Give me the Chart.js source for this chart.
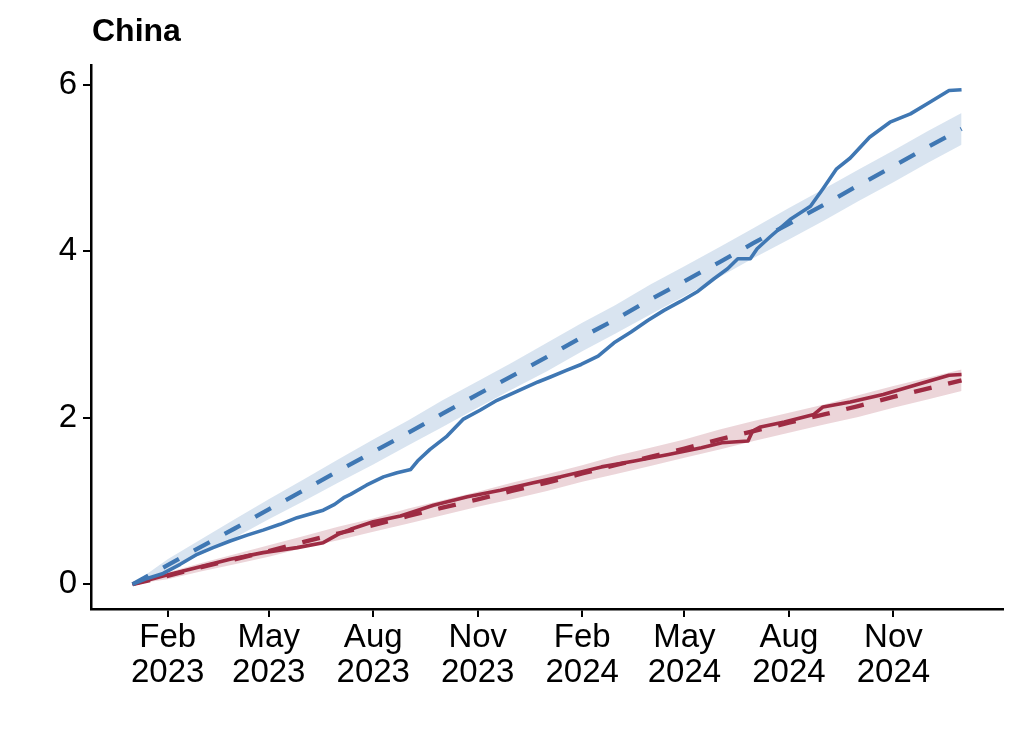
<!DOCTYPE html>
<html>
<head>
<meta charset="utf-8">
<script src="https://cdn.jsdelivr.net/npm/chart.js@4.4.1/dist/chart.umd.min.js"></script>
<style>
html,body{margin:0;padding:0;background:#fff;}
canvas{display:block;}
</style>
</head>
<body>
<canvas id="c" width="1020" height="750"></canvas>
<script>
// ---- data ----
const chartTitle = "China";
const tickDates = ["2023-02-01","2023-05-01","2023-08-01","2023-11-01","2024-02-01","2024-05-01","2024-08-01","2024-11-01"];
const tickLabels = ["Feb 2023","May 2023","Aug 2023","Nov 2023","Feb 2024","May 2024","Aug 2024","Nov 2024"];
const yTicks = [0, 2, 4, 6];

const blueDates = ["2023-01-01","2023-01-14","2023-01-28","2023-02-12","2023-02-27","2023-03-13","2023-03-28","2023-04-12","2023-04-26","2023-05-11","2023-05-26","2023-06-08","2023-06-18","2023-06-28","2023-07-06","2023-07-12","2023-07-26","2023-08-10","2023-08-22","2023-09-03","2023-09-09","2023-09-20","2023-10-05","2023-10-19","2023-11-03","2023-11-18","2023-12-06","2023-12-24","2024-01-04","2024-01-18","2024-01-31","2024-02-15","2024-02-29","2024-03-15","2024-03-30","2024-04-13","2024-04-28","2024-05-13","2024-05-27","2024-06-08","2024-06-17","2024-06-28","2024-07-04","2024-07-16","2024-08-02","2024-08-20","2024-08-31","2024-09-12","2024-09-24","2024-10-11","2024-10-29","2024-11-16","2024-12-03","2024-12-20","2024-12-31"];
const blueObserved = [0,0.07,0.13,0.24,0.36,0.44,0.52,0.59,0.65,0.72,0.80,0.85,0.89,0.96,1.04,1.08,1.19,1.29,1.34,1.38,1.48,1.62,1.78,1.98,2.09,2.21,2.32,2.43,2.49,2.57,2.64,2.74,2.90,3.03,3.17,3.29,3.40,3.52,3.67,3.79,3.91,3.91,4.03,4.18,4.38,4.54,4.75,4.99,5.12,5.37,5.55,5.65,5.79,5.93,5.94];

const redDates = ["2023-01-01","2023-01-28","2023-02-27","2023-03-28","2023-04-26","2023-05-26","2023-06-18","2023-07-01","2023-07-12","2023-08-01","2023-08-25","2023-09-23","2023-10-23","2023-11-21","2023-12-20","2024-01-13","2024-01-31","2024-02-18","2024-03-18","2024-04-17","2024-05-16","2024-06-03","2024-06-26","2024-06-30","2024-07-07","2024-07-28","2024-08-23","2024-08-31","2024-09-24","2024-10-23","2024-11-22","2024-12-20","2024-12-31"];
const redObserved = [0,0.10,0.20,0.30,0.38,0.44,0.50,0.60,0.66,0.75,0.82,0.95,1.05,1.13,1.22,1.29,1.35,1.41,1.48,1.56,1.64,1.70,1.72,1.84,1.89,1.95,2.04,2.13,2.19,2.28,2.40,2.51,2.52];

const bandDates = ["2023-01-01","2023-02-01","2023-03-01","2023-04-01","2023-05-01","2023-06-01","2023-07-01","2023-08-01","2023-09-01","2023-10-01","2023-11-01","2023-12-01","2024-01-01","2024-02-01","2024-03-01","2024-04-01","2024-05-01","2024-06-01","2024-07-01","2024-08-01","2024-09-01","2024-10-01","2024-11-01","2024-12-01","2024-12-31"];
const blueExpected = [0,0.23,0.44,0.67,0.90,1.13,1.36,1.59,1.82,2.05,2.28,2.50,2.73,2.97,3.18,3.42,3.64,3.87,4.10,4.33,4.56,4.79,5.02,5.25,5.47];
const blueLow  = [0,0.16,0.35,0.56,0.78,1.00,1.22,1.44,1.67,1.89,2.12,2.34,2.56,2.80,3.01,3.24,3.46,3.69,3.92,4.14,4.37,4.60,4.83,5.06,5.28];
const blueHigh = [0,0.30,0.53,0.78,1.02,1.26,1.50,1.74,1.97,2.21,2.44,2.66,2.90,3.14,3.35,3.60,3.82,4.05,4.28,4.52,4.75,4.98,5.21,5.44,5.66];
const redExpected = [0,0.10,0.20,0.30,0.40,0.51,0.61,0.71,0.82,0.92,1.02,1.12,1.22,1.33,1.43,1.53,1.63,1.74,1.84,1.94,2.04,2.14,2.25,2.35,2.45];
const redLow  = [0,0.06,0.15,0.24,0.33,0.44,0.53,0.63,0.73,0.83,0.93,1.02,1.12,1.23,1.32,1.42,1.52,1.62,1.72,1.82,1.92,2.01,2.12,2.22,2.32];
const redHigh = [0,0.14,0.25,0.36,0.47,0.58,0.69,0.79,0.91,1.01,1.11,1.22,1.32,1.43,1.54,1.64,1.74,1.86,1.96,2.06,2.16,2.27,2.38,2.48,2.58];

// ---- helpers ----
const origin = Date.UTC(2023, 0, 1);
function dayOf(s){ const p = s.split('-').map(Number); return (Date.UTC(p[0], p[1]-1, p[2]) - origin) / 864e5; }
function pts(dates, vals){ return dates.map((d,i)=>({x: dayOf(d), y: vals[i]})); }

const BLUE = '#3f77b3', RED = '#9e2b43';
const BLUE_BAND = 'rgba(63,119,179,0.2)', RED_BAND = 'rgba(158,43,67,0.2)';
const FONT = '"Liberation Sans", Arial, Helvetica, sans-serif';

const titlePlugin = {
  id: 'titleText',
  afterDraw(chart){
    const ctx = chart.ctx;
    ctx.save();
    ctx.font = 'bold 32px ' + FONT;
    ctx.fillStyle = '#000';
    ctx.textBaseline = 'alphabetic';
    ctx.textAlign = 'left';
    ctx.fillText(chartTitle, 92, 41);
    ctx.restore();
  }
};

new Chart(document.getElementById('c'), {
  type: 'line',
  data: {
    datasets: [
      {data: pts(blueDates, blueObserved), borderColor: BLUE, borderWidth: 3.6, pointRadius: 0, fill: false, tension: 0, borderJoinStyle: 'round'},
      {data: pts(redDates, redObserved), borderColor: RED, borderWidth: 3.6, pointRadius: 0, fill: false, tension: 0, borderJoinStyle: 'round'},
      {data: pts(bandDates, blueExpected), borderColor: BLUE, borderWidth: 4.3, borderDash: [18,17], pointRadius: 0, fill: false, tension: 0},
      {data: pts(bandDates, redExpected), borderColor: RED, borderWidth: 4.3, borderDash: [18,17], pointRadius: 0, fill: false, tension: 0},
      {data: pts(bandDates, blueHigh), borderWidth: 0, borderColor: 'rgba(0,0,0,0)', backgroundColor: BLUE_BAND, pointRadius: 0, fill: 5, tension: 0},
      {data: pts(bandDates, blueLow), borderWidth: 0, borderColor: 'rgba(0,0,0,0)', pointRadius: 0, fill: false, tension: 0},
      {data: pts(bandDates, redHigh), borderWidth: 0, borderColor: 'rgba(0,0,0,0)', backgroundColor: RED_BAND, pointRadius: 0, fill: 7, tension: 0},
      {data: pts(bandDates, redLow), borderWidth: 0, borderColor: 'rgba(0,0,0,0)', pointRadius: 0, fill: false, tension: 0}
    ]
  },
  options: {
    responsive: false,
    animation: false,
    devicePixelRatio: 1,
    layout: {padding: {top: 65, right: 17, left: 0, bottom: 0}},
    plugins: {legend: {display: false}, tooltip: {enabled: false}, title: {display: false}},
    scales: {
      x: {
        type: 'linear',
        min: -36.5, max: 766.5,
        afterBuildTicks(scale){ scale.ticks = tickDates.map(d => ({value: dayOf(d)})); },
        afterFit(scale){ scale.height = 141; },
        ticks: {
          autoSkip: false, maxRotation: 0, padding: 4, color: '#000',
          font: {family: FONT, size: 33, lineHeight: 1.05},
          callback(v, i){ return tickLabels[i].split(' '); }
        },
        grid: {display: true, drawOnChartArea: false, drawTicks: true, tickLength: 8, color: '#000', lineWidth: 2},
        border: {display: true, color: '#000', width: 2.5}
      },
      y: {
        type: 'linear',
        min: -0.297, max: 6.237,
        afterBuildTicks(scale){ scale.ticks = yTicks.map(v => ({value: v})); },
        afterFit(scale){ scale.width = 91; },
        ticks: {padding: 6, color: '#000', font: {family: FONT, size: 33}, callback(v){ return String(v); }},
        grid: {display: true, drawOnChartArea: false, drawTicks: true, tickLength: 8, color: '#000', lineWidth: 2},
        border: {display: true, color: '#000', width: 2.5}
      }
    }
  },
  plugins: [titlePlugin]
});
</script>
</body>
</html>
